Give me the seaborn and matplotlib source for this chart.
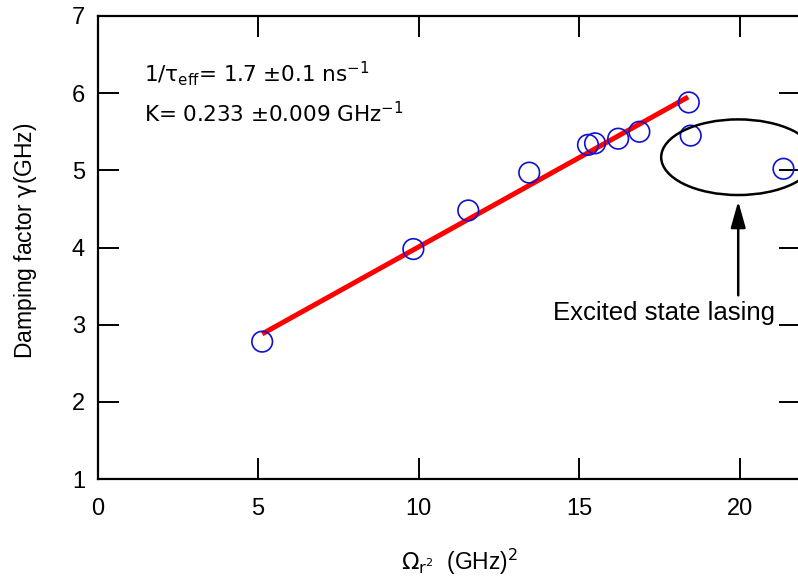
import matplotlib
matplotlib.use("Agg")
import matplotlib.pyplot as plt
from matplotlib.patches import Ellipse
import seaborn as sns
import pandas as pd

# Data
omega_sq = [5.13, 9.84, 11.55, 13.45, 15.28, 15.50, 16.22, 16.88, 18.42, 18.48, 21.37]
gamma = [2.78, 3.98, 4.48, 4.97, 5.33, 5.35, 5.41, 5.50, 5.88, 5.45, 5.02]
fit_x = [5.13, 18.40]
fit_y = [2.88, 5.95]
x_ticks = [0, 5, 10, 15, 20]
y_ticks = [1, 2, 3, 4, 5, 6, 7]

sns.set_style("ticks")
sans = ["Liberation Sans", "DejaVu Sans"]
plt.rcParams["font.family"] = ["DejaVu Sans"]
plt.rcParams["text.color"] = "black"
plt.rcParams["axes.labelcolor"] = "black"
plt.rcParams["mathtext.fontset"] = "custom"
plt.rcParams["mathtext.rm"] = "DejaVu Sans"
plt.rcParams["mathtext.it"] = "DejaVu Sans"

fig = plt.figure(figsize=(7.98, 5.86), dpi=100)
ax = fig.add_axes([97.5 / 798, 107 / 586, (21.9 * 32.1) / 798, 463 / 586])

pts = pd.DataFrame({"x": omega_sq, "y": gamma})
fit = pd.DataFrame({"x": fit_x, "y": fit_y})

sns.lineplot(data=fit, x="x", y="y", ax=ax, color="#ff0000", linewidth=3.6,
             zorder=2, solid_capstyle="butt")
sns.scatterplot(data=pts, x="x", y="y", ax=ax, marker="o", s=220,
                facecolor="none", edgecolor="#1010d0", linewidth=1.2, zorder=3)

ax.set_xlim(0, 21.9)
ax.set_ylim(1, 7)
ax.set_xticks(x_ticks)
ax.set_yticks(y_ticks)
ax.set_xticklabels([str(t) for t in x_ticks], family=sans, fontsize=17)
ax.set_yticklabels([str(t) for t in y_ticks], family=sans, fontsize=17)
ax.tick_params(direction="in", length=15, width=1.4, top=True, right=True,
               colors="black", labelcolor="black")
ax.tick_params(axis="x", pad=14)
ax.tick_params(axis="y", pad=9)
for s in ax.spines.values():
    s.set_linewidth(1.6)
    s.set_color("black")

ax.set_xlabel(r"$\Omega_{\mathrm{r}^{2}}$  (GHz)$^{2}$", fontsize=16.5,
              family=sans, color="black")
ax.xaxis.set_label_coords(460 / 798, 1 - 547 / 586, transform=fig.transFigure)
ax.set_ylabel(r"Damping factor $\gamma$(GHz)", fontsize=16.5, family=sans,
              color="black")
ax.yaxis.set_label_coords(39 / 798, 1 - 241 / 586, transform=fig.transFigure)

ax.text(1.45, 6.26, r"1/$\tau_{\mathrm{eff}}$= 1.7 $\pm$0.1 ns$^{-1}$", fontsize=15.5,
        va="center", ha="left", color="black")
ax.text(1.45, 5.74, r"K= 0.233 $\pm$0.009 GHz$^{-1}$", fontsize=15.5,
        va="center", ha="left", color="black")

ell = Ellipse((19.96, 5.17), width=4.8, height=0.98, fill=False,
              edgecolor="black", linewidth=1.8, zorder=4, clip_on=False)
ax.add_patch(ell)
ax.annotate("", xy=(19.96, 4.6), xytext=(19.96, 3.38),
            arrowprops=dict(arrowstyle="-|>,head_length=1.6,head_width=0.45",
                            color="black", linewidth=1.8, shrinkA=0, shrinkB=0))
ax.text(17.66, 3.15, "Excited state lasing", family=sans,
        fontsize=18.5, ha="center", va="center", color="black")

fig.savefig("out.png", dpi=100)
